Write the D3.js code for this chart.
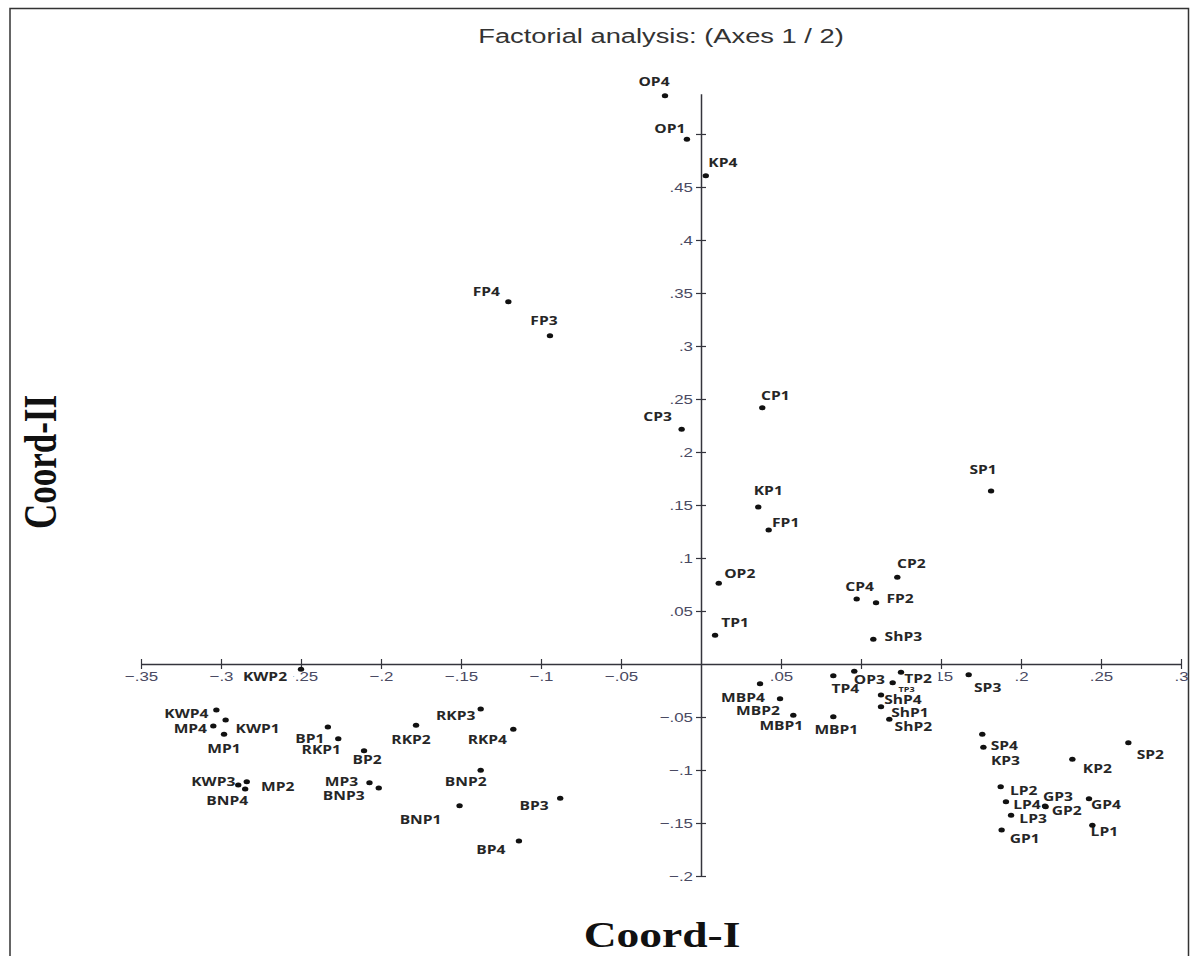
<!DOCTYPE html>
<html>
<head>
<meta charset="utf-8">
<script src="https://cdn.jsdelivr.net/npm/d3@7/dist/d3.min.js"></script>
<style>
  html, body { margin: 0; padding: 0; background: #fff; }
  svg { display: block; }
</style>
</head>
<body>
<div id="chart"></div>
<script>
// Factorial analysis, axes 1 / 2 — point names and coordinates
const names = [
  'OP4', 'OP1', 'KP4', 'FP4', 'FP3', 'CP3', 'CP1', 'KP1', 'FP1', 'SP1',
  'OP2', 'CP2', 'CP4', 'FP2', 'TP1', 'ShP3', 'TP4', 'OP3', 'TP2', 'TP3',
  'ShP4', 'ShP1', 'ShP2', 'MBP4', 'MBP2', 'MBP1', 'MBP1', 'SP3', 'SP4', 'KP3',
  'SP2', 'KP2', 'LP2', 'GP3', 'LP4', 'GP2', 'LP3', 'GP4', 'LP1', 'GP1',
  'KWP2', 'KWP4', 'KWP1', 'MP4', 'MP1', 'RKP1', 'BP1', 'BP2', 'RKP2', 'RKP3',
  'RKP4', 'KWP3', 'MP2', 'BNP4', 'MP3', 'BNP3', 'BNP2', 'BNP1', 'BP3', 'BP4'
]
const coord1 = [
  -0.0225, -0.0088, 0.003, -0.1204, -0.0944, -0.0121, 0.0383, 0.0358, 0.0423, 0.1813,
  0.0111, 0.1227, 0.0973, 0.1094, 0.0088, 0.1077, 0.0827, 0.0958, 0.125, 0.1198,
  0.1125, 0.1125, 0.1177, 0.0369, 0.0494, 0.0577, 0.0827, 0.1673, 0.1758, 0.1765,
  0.2671, 0.2321, 0.1873, 0.215, 0.1906, 0.2154, 0.1938, 0.2425, 0.2446, 0.1879,
  -0.25, -0.3029, -0.2971, -0.3048, -0.2981, -0.2267, -0.2332, -0.2106, -0.1781, -0.1377,
  -0.1173, -0.2892, -0.2839, -0.2849, -0.2072, -0.2014, -0.1377, -0.1509, -0.088, -0.1138
]
const coord2 = [
  0.536, 0.495, 0.4607, 0.3418, 0.3097, 0.2214, 0.2418, 0.1481, 0.1264, 0.1632,
  0.0761, 0.0818, 0.0613, 0.0578, 0.027, 0.0233, -0.011, -0.0069, -0.0079, -0.0176,
  -0.0292, -0.0403, -0.0522, -0.0186, -0.0327, -0.0484, -0.0497, -0.0101, -0.0663, -0.0786,
  -0.0742, -0.0899, -0.1158, -0.134, -0.1299, -0.1346, -0.1427, -0.1271, -0.1522, -0.1566,
  -0.005, -0.0434, -0.0528, -0.0585, -0.0663, -0.0705, -0.0594, -0.0818, -0.0579, -0.0425,
  -0.0616, -0.1142, -0.111, -0.1179, -0.112, -0.117, -0.1003, -0.1337, -0.1267, -0.167
]

// label placement: offset of the label centre from its point (px)
const labelDx = [
  -11, -17, 17, -22, -6, -24, 13, 10, 17, -8,
  21, 14, 3, 24, 20, 30, 12, 15, 17, 14,
  22, 29, 24, -17, -22, -12, 3, 19, 22, 22,
  22, 25, 23, 13, 21, 21, 22, 17, 12, 23,
  -36, -30, 32, -23, 0, -17, -18, 3, -5, -25,
  -26, -25, 31, -18, -28, -35, -15, -39, -26, -28
]
const labelDy = [
  -14, -11, -13, -10, -15, -13, -12, -16, -7, -21,
  -10, -14, -12, -4, -13, -3, 13, 8, 6, 7,
  5, 6, 7, 14, 12, 10, 13, 13, 11, 13,
  12, 9, 4, -9, 3, 4, 3, 6, 6, 9,
  7, 4, 9, 3, 14, 11, 12, 9, 14, 7,
  10, -3, 5, 12, -1, 8, 11, 14, 7, 9
]
const smallLabels = ['TP3']

const xMajor = [-0.35, -0.3, -0.25, -0.2, -0.15, -0.1, -0.05, 0.05, 0.1, 0.15, 0.2, 0.25, 0.3]
const xMinor = [-0.325, -0.275, -0.225, -0.175, -0.125, -0.075, -0.025, 0.025, 0.075, 0.125, 0.175, 0.225, 0.275]
const yMajor = [-0.2, -0.15, -0.1, -0.05, 0.05, 0.1, 0.15, 0.2, 0.25, 0.3, 0.35, 0.4, 0.45, 0.5]
const yMinor = [-0.175, -0.125, -0.075, -0.025, 0.025, 0.075, 0.125, 0.175, 0.225, 0.275, 0.325, 0.375, 0.425, 0.475, 0.525]
// tick labels that sit fully under a point label in the original
const xHiddenLabels = [0.1]
const yHiddenLabels = [0.5]

const width = 1191
const height = 956
const SX = 1.3 // the picture is stretched sideways, so is every text

const points = names.map((name, i) => ({
  name, c1: coord1[i], c2: coord2[i], dx: labelDx[i], dy: labelDy[i],
}))

const x = d3.scaleLinear().domain([-0.35, 0.3]).range([141, 1181])
const y = d3.scaleLinear().domain([-0.2, 0.538]).range([876, 93.7])

const fmt = d => d3.format('.2~f')(d).replace('0.', '.')
const sans = '"Liberation Sans", Arial, sans-serif'
const serif = '"Liberation Serif", "Times New Roman", serif'
const axisColor = '#34343c'
const tickTextColor = '#4a4a62'

const svg = d3.select('#chart')
  .append('svg')
  .attr('width', width)
  .attr('height', height)

// frame
svg.append('path')
  .attr('d', `M10,${height + 2} V8.5 H1188.5 V${height + 2}`)
  .attr('fill', 'none')
  .attr('stroke', '#333')
  .attr('stroke-width', 1.5)

// Title
svg.append('text')
  .attr('transform', `translate(661,43) scale(${SX},1)`)
  .attr('text-anchor', 'middle')
  .attr('font-family', sans)
  .attr('font-size', 21)
  .attr('fill', '#333')
  .text('Factorial analysis: (Axes 1 / 2)')

// Tick labels first: the point labels' white boxes sit over some of them
const gxText = svg.append('g').attr('transform', `translate(0,${y(0)})`)
  .call(d3.axisBottom(x)
    .tickValues(xMajor.filter(v => !xHiddenLabels.includes(v)))
    .tickSize(5).tickFormat(fmt))
gxText.selectAll('.domain, .tick line').remove()
gxText.selectAll('.tick text')
  .attr('y', 8)
  .attr('transform', `scale(${SX},1)`)
  .attr('font-family', sans)
  .attr('font-size', 13)
  .attr('fill', tickTextColor)

const gyText = svg.append('g').attr('transform', `translate(${x(0)},0)`)
  .call(d3.axisLeft(y)
    .tickValues(yMajor.filter(v => !yHiddenLabels.includes(v)))
    .tickSize(5).tickFormat(fmt))
gyText.selectAll('.domain, .tick line').remove()
gyText.selectAll('.tick text')
  .attr('x', -8 / SX)
  .attr('transform', `scale(${SX},1)`)
  .attr('font-family', sans)
  .attr('font-size', 13)
  .attr('fill', tickTextColor)

// Point labels
const label = svg.append('g')
  .selectAll('g')
  .data(points)
  .join('g')
  .attr('transform', d => `translate(${x(d.c1) + d.dx},${y(d.c2) + d.dy}) scale(${SX},1)`)

label.append('text')
  .attr('text-anchor', 'middle')
  .attr('dy', '0.36em')
  .attr('font-family', '"Open Sans", "DejaVu Sans", sans-serif')
  .attr('font-weight', 700)
  .attr('font-size', d => smallLabels.includes(d.name) ? 7 : 12)
  .attr('fill', '#262626')
  .text(d => d.name)

// white boxes behind the labels
const boxes = svg.insert('g', () => label.node().parentNode)
label.each(function () {
  const b = d3.select(this).select('text').node().getBBox()
  boxes.append('rect')
    .attr('transform', d3.select(this).attr('transform'))
    .attr('x', b.x - 5)
    .attr('y', b.y + 1)
    .attr('width', b.width + 10)
    .attr('height', b.height - 2)
    .attr('fill', '#fff')
})

// Axis lines and ticks above the boxes
const gx = svg.insert('g', () => label.node().parentNode).attr('transform', `translate(0,${y(0)})`)
gx.call(d3.axisBottom(x).tickValues(xMinor).tickSize(-4).tickSizeOuter(0).tickFormat(''))
gx.call(d3.axisBottom(x).tickValues(xMajor).tickSize(5).tickSizeOuter(0).tickFormat(''))
gx.selectAll('.domain').attr('stroke', axisColor).attr('stroke-width', 1.5)
gx.selectAll('.tick line').attr('stroke', axisColor).attr('stroke-width', 1.2)
gx.selectAll('.tick line').filter(d => xMajor.includes(d)).attr('y1', -5)

const gy = svg.insert('g', () => label.node().parentNode).attr('transform', `translate(${x(0)},0)`)
gy.call(d3.axisLeft(y).tickValues(yMinor).tickSize(-4).tickSizeOuter(0).tickFormat(''))
gy.call(d3.axisLeft(y).tickValues(yMajor).tickSize(5).tickSizeOuter(0).tickFormat(''))
gy.selectAll('.domain').attr('stroke', axisColor).attr('stroke-width', 1.5)
gy.selectAll('.tick line').attr('stroke', axisColor).attr('stroke-width', 1.2)
gy.selectAll('.tick line').filter(d => yMajor.includes(d)).attr('x1', 5)

// Points
svg.append('g')
  .selectAll('ellipse')
  .data(points)
  .join('ellipse')
  .attr('cx', d => x(d.c1))
  .attr('cy', d => y(d.c2))
  .attr('rx', 3.2)
  .attr('ry', 2.5)
  .attr('fill', '#111')

// Axis titles
svg.append('text')
  .attr('transform', `translate(662,947) scale(${SX},1)`)
  .attr('text-anchor', 'middle')
  .attr('font-family', serif)
  .attr('font-weight', 700)
  .attr('font-size', 35)
  .attr('fill', '#111')
  .text('Coord-I')

svg.append('text')
  .attr('transform', `translate(40,462) scale(${SX},1) rotate(-90)`)
  .attr('text-anchor', 'middle')
  .attr('dy', '0.35em')
  .attr('font-family', serif)
  .attr('font-weight', 700)
  .attr('font-size', 35)
  .attr('fill', '#111')
  .text('Coord-II')
</script>
</body>
</html>
